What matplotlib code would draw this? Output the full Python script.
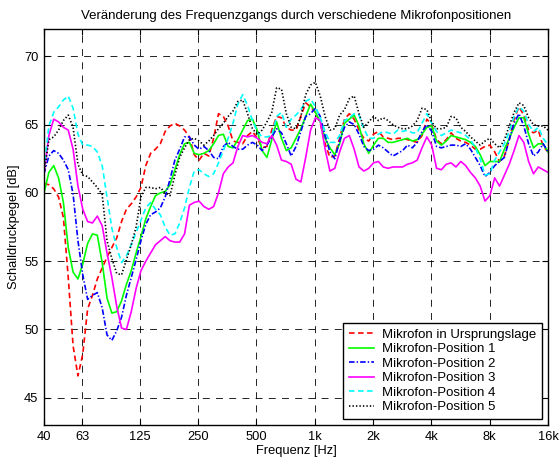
import numpy as np
import matplotlib
matplotlib.use("Agg")
import matplotlib.pyplot as plt

plt.rcParams['font.family'] = ['Liberation Sans', 'DejaVu Sans']
plt.rcParams['lines.scale_dashes'] = False

# 1/12-octave analysis bands, 40 Hz ... 16 kHz
freqs = np.geomspace(40, 16000, 105)

# levels in dB per microphone position
ursprung = [
    60.7, 60.6, 60.3, 59.7, 58.2, 53.8, 48.8, 46.6, 48.2, 51.5,
    52.5, 53.7, 54.5, 55.3, 56.0, 56.7, 57.9, 58.8, 59.2, 59.7,
    60.4, 62.0, 62.9, 63.2, 63.6, 64.5, 64.9, 65.1, 64.9, 64.6,
    64.1, 62.8, 62.4, 62.9, 62.7, 64.0, 65.8, 65.6, 64.9, 63.8,
    63.7, 63.6, 64.2, 64.5, 64.0, 63.3, 63.4, 64.6, 65.6, 65.5,
    64.8, 64.6, 64.6, 65.6, 66.6, 66.3, 65.9, 65.1, 63.6, 62.6,
    62.7, 64.0, 65.4, 65.8, 65.4, 64.6, 64.0, 63.8, 64.3, 64.5,
    64.1, 64.0, 63.9, 64.0, 64.0, 63.9, 63.8, 63.7, 64.2, 65.4,
    65.0, 63.9, 63.6, 63.9, 64.4, 64.0, 63.8, 63.7, 63.5, 63.2,
    63.2, 63.4, 63.5, 63.0, 62.3, 62.7, 63.9, 65.4, 66.3, 65.7,
    64.6, 64.4, 64.6, 63.4, 63.0,
]
pos1 = [
    60.0, 61.5, 62.0, 61.1, 59.3, 56.0, 54.2, 53.7, 54.8, 56.3,
    57.0, 56.9, 54.9, 52.3, 51.2, 51.3, 52.1, 53.3, 54.3, 55.6,
    56.8, 58.1, 59.0, 59.8, 60.0, 60.1, 60.6, 61.7, 62.8, 63.6,
    63.7, 62.9, 62.8, 62.9, 63.1, 63.6, 64.2, 64.3, 63.4, 63.3,
    63.9, 64.6, 65.3, 65.4, 64.6, 63.1, 62.6, 63.9, 65.2, 64.0,
    63.1, 63.3, 64.0, 64.7, 65.6, 66.5, 65.9, 65.2, 64.0, 63.3,
    62.8, 63.6, 65.1, 65.4, 65.7, 64.9, 63.6, 62.9, 63.5, 64.0,
    64.0, 63.7, 63.7, 63.8, 63.9, 64.0, 63.8, 63.9, 64.3, 64.8,
    64.9, 63.8, 63.5, 63.8, 64.2, 64.1, 64.0, 63.9, 63.7, 63.4,
    62.8, 62.0, 62.3, 62.3, 62.3, 63.2, 64.0, 64.8, 65.5, 65.5,
    64.3, 63.3, 63.6, 63.6, 63.0,
]
pos2 = [
    61.4, 62.7, 63.1, 62.9, 62.4, 61.7, 59.9, 56.5, 54.0, 52.2,
    52.5, 52.7, 51.6, 49.6, 49.2, 49.9, 50.9, 52.5, 53.8, 55.1,
    56.5, 57.7, 58.4, 58.6, 58.9, 59.7, 61.0, 62.4, 63.2, 64.1,
    64.1, 63.5, 63.2, 63.4, 63.1, 62.6, 62.5, 63.4, 63.7, 63.4,
    63.2, 63.2, 63.5, 63.7, 63.5, 63.1, 63.5, 64.1, 64.7, 64.4,
    63.6, 62.7, 63.4, 64.5, 65.6, 65.8, 66.2, 65.6, 64.2, 63.0,
    62.5, 63.8, 64.8, 65.2, 65.0, 64.3, 63.4, 63.1, 63.2, 63.5,
    63.3, 63.0, 62.7, 62.9, 63.1, 63.5, 63.3, 63.7, 64.5, 65.0,
    64.5, 63.4, 63.3, 63.4, 63.5, 63.5, 63.4, 63.6, 63.2, 62.6,
    62.0, 61.2, 61.5, 62.0, 62.3, 62.6, 63.9, 65.1, 65.8, 64.9,
    63.6, 62.7, 63.0, 63.6, 63.0,
]
pos3 = [
    61.4, 64.2, 65.4, 65.2, 64.8, 64.6, 63.2, 60.5, 58.8, 57.9,
    57.8, 58.3, 57.6, 55.6, 53.8, 51.7, 50.1, 50.0, 51.3, 53.0,
    54.3, 55.0, 55.6, 56.2, 56.5, 56.8, 56.5, 56.4, 56.4, 57.0,
    59.1, 59.3, 59.4, 59.0, 58.8, 59.0, 60.0, 61.4, 61.9, 62.2,
    63.4, 64.2, 64.1, 64.2, 64.0, 63.7, 63.6, 64.2, 63.5, 62.4,
    62.3, 62.1, 61.0, 60.8, 62.6, 64.6, 65.5, 65.3, 63.2, 61.6,
    61.8, 63.0, 64.0, 64.2, 63.2, 61.9, 61.6, 61.8, 62.2, 62.3,
    61.9, 61.8, 61.9, 61.9, 61.9, 62.1, 62.2, 62.4, 63.3, 64.1,
    63.5, 61.8, 61.7, 62.1, 62.2, 61.9, 62.3, 62.0, 61.5, 61.1,
    60.5, 59.4, 59.8, 61.1, 60.5, 61.3, 62.1, 63.1, 64.2, 63.7,
    62.3, 61.4, 61.9, 61.7, 61.5,
]
pos4 = [
    61.7, 64.9, 65.9, 66.3, 66.8, 67.1, 66.2, 64.3, 63.5, 63.5,
    63.4, 63.0, 62.0, 59.7, 57.4, 56.0, 54.9, 55.4, 56.2, 57.1,
    58.0, 58.9, 59.3, 58.8, 58.4, 57.5, 56.9, 57.0, 57.8, 58.9,
    60.4, 61.6, 61.7, 61.4, 61.2, 61.4, 62.2, 63.1, 64.0, 65.1,
    66.5, 67.2, 66.4, 65.3, 64.5, 64.1, 64.1, 64.2, 65.6, 65.9,
    64.8, 65.4, 65.7, 66.1, 66.7, 66.9, 66.3, 65.5, 64.5, 63.7,
    63.7, 64.2, 65.3, 65.5, 65.8, 65.7, 64.7, 64.0, 64.0, 64.3,
    64.5, 64.4, 64.3, 64.6, 64.5, 64.6, 64.4, 64.4, 65.1, 65.8,
    65.1, 64.5, 64.2, 64.4, 64.6, 64.5, 64.4, 64.2, 63.9, 63.3,
    62.5, 61.3, 61.4, 62.4, 63.0, 63.6, 64.5, 65.6, 66.3, 66.0,
    65.0, 64.5, 64.8, 64.0, 63.5,
]
pos5 = [
    61.4, 63.9, 64.1, 64.6, 65.3, 65.7, 64.8, 62.1, 61.3, 61.2,
    60.8, 60.4, 59.9, 56.5, 55.2, 54.1, 54.0, 55.1, 56.2, 57.5,
    59.7, 60.4, 60.4, 60.3, 60.4, 60.0, 59.8, 61.3, 62.6, 63.3,
    63.9, 64.0, 63.8, 63.5, 63.8, 64.2, 64.7, 65.1, 65.6, 66.0,
    66.7, 66.8, 65.8, 64.7, 64.3, 64.6, 65.2, 65.9, 67.7, 67.6,
    65.8, 64.8, 64.7, 65.6, 67.2, 67.9, 68.1, 67.1, 65.6, 64.6,
    64.7, 65.7, 66.1, 66.9, 67.1, 65.8, 64.8, 65.2, 65.6, 65.3,
    65.5, 65.3, 65.0, 64.8, 64.7, 64.7, 64.9, 65.3, 66.2, 66.1,
    65.2, 64.7, 64.7, 64.8, 65.6, 65.5, 64.8, 64.5, 64.1, 63.8,
    63.5, 63.8, 64.0, 63.6, 63.3, 63.9, 64.9, 65.9, 66.6, 66.4,
    65.5, 65.0, 64.9, 64.9, 64.6,
]

labels = ["Mikrofon in Ursprungslage", "Mikrofon-Position 1", "Mikrofon-Position 2",
          "Mikrofon-Position 3", "Mikrofon-Position 4", "Mikrofon-Position 5"]
tick_freqs = [40, 63, 125, 250, 500, 1000, 2000, 4000, 8000, 16000]
tick_labels = ["40", "63", "125", "250", "500", "1k", "2k", "4k", "8k", "16k"]

fig = plt.figure(figsize=(5.6, 4.61), dpi=100)
ax = fig.add_axes([0.0786, 0.078, 0.9, 0.859])

ax.semilogx(freqs, ursprung, color='#ff0000', linestyle=(0, (4, 2.5)), lw=1.2, label=labels[0])
ax.semilogx(freqs, pos1, color='#00ff00', linestyle='-', lw=1.2, label=labels[1])
ax.semilogx(freqs, pos2, color='#0000ff', linestyle=(0, (4, 1.5, 1, 1.5)), lw=1.2, label=labels[2])
ax.semilogx(freqs, pos3, color='#ff00ff', linestyle='-', lw=1.2, label=labels[3])
ax.semilogx(freqs, pos4, color='#00ffff', linestyle=(0, (4, 2.5)), lw=1.2, label=labels[4])
ax.semilogx(freqs, pos5, color='black', linestyle=(0, (1, 1.5)), lw=1.2, label=labels[5])

ax.set_xlim(40, 16000)
ax.set_ylim(43, 72)
ax.set_xticks(tick_freqs)
ax.set_xticklabels(tick_labels)
ax.xaxis.set_minor_locator(matplotlib.ticker.NullLocator())
ax.set_yticks([45, 50, 55, 60, 65, 70])

ax.grid(True, color='black', linestyle=(0, (5, 4.5)), linewidth=0.6)
ax.tick_params(direction='in', top=True, right=True, length=4, labelsize=9.3, pad=4)
for sp in ax.spines.values():
    sp.set_linewidth(1.0)

ax.set_title("Veränderung des Frequenzgangs durch verschiedene Mikrofonpositionen",
             fontsize=9.5, pad=7)
ax.set_xlabel("Frequenz [Hz]", fontsize=9.3, labelpad=2)
ax.set_ylabel("Schalldruckpegel [dB]", fontsize=9.3, labelpad=3)

leg = ax.legend(loc='lower right', fontsize=9.5, fancybox=False, framealpha=1,
                edgecolor='black', handlelength=1.9, handletextpad=0.6,
                borderaxespad=0.45, labelspacing=0.17, borderpad=0.45)
leg.get_frame().set_linewidth(1.0)

fig.savefig("out.png", dpi=100)
